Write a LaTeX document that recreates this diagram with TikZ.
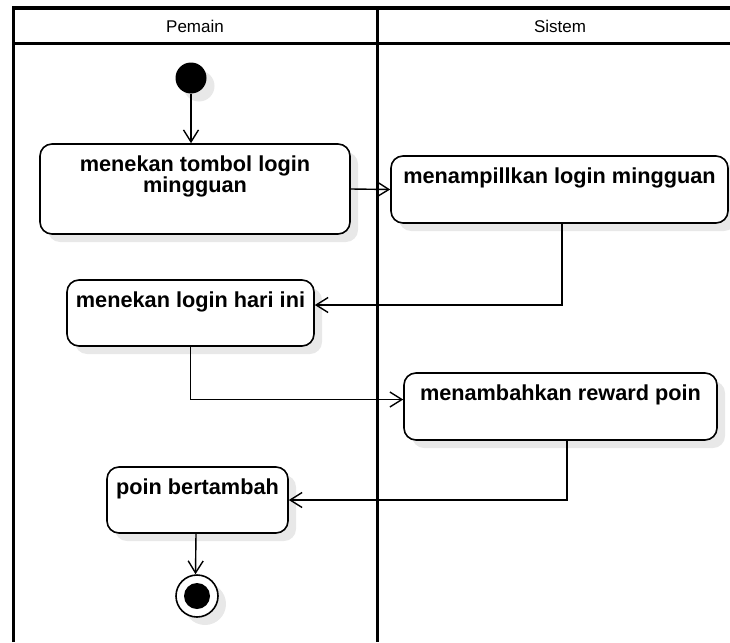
\documentclass[tikz,border=0pt]{standalone}
\usepackage{fontspec}
\setmainfont{Liberation Sans}
\usetikzlibrary{arrows.meta,shadows}

\begin{document}
\begin{tikzpicture}[x=1pt, y=-1pt, >={Straight Barb[length=12pt,width=15pt,line width=1.4pt]},
  shade/.style={drop shadow={shadow xshift=8pt, shadow yshift=-8pt, fill=black!9, opacity=1}},
  act/.style={draw, line width=1.6pt, rounded corners=12pt, fill=white, shade, inner sep=0pt},
  acttext/.style={anchor=north, inner sep=0pt, yshift=-12pt, align=center, font=\fontsize{21.7}{20}\selectfont\bfseries},
  flow/.style={->, line width=1.4pt},
  lane/.style={line width=3.5pt}]
  \useasboundingbox (0,0) rectangle (730,642);

  % Swimlanes
  \draw[lane] (13.5,642) -- (13.5,8) -- (730,8);
  \draw[lane] (13.5,43.5) -- (730,43.5);
  \draw[lane] (377.5,8) -- (377.5,642);
  \node[font=\fontsize{17}{17}\selectfont] (pemain) at (195,26) {Pemain};
  \node[font=\fontsize{17}{17}\selectfont] (sistem) at (560,26) {Sistem};

  % Start and end
  \node[circle, fill=black, minimum size=31pt, inner sep=0pt, shade] (start) at (191,78) {};
  \node[circle, draw, line width=1.6pt, fill=white, minimum size=42pt, inner sep=0pt, shade] (end) at (197,596) {};
  \fill (end) circle (13);

  % Activities
  \node[act, minimum width=310pt, minimum height=90pt,
    label={[acttext]north:menekan tombol login\\mingguan}] (tombol) at (195,189) {};
  \node[act, minimum width=337pt, minimum height=67pt,
    label={[acttext]north:menampillkan login mingguan}] (tampil) at (559.5,189.5) {};
  \node[act, minimum width=247pt, minimum height=66pt,
    label={[acttext]north:menekan login hari ini}] (hariini) at (190.5,313) {};
  \node[act, minimum width=313pt, minimum height=67pt,
    label={[acttext]north:menambahkan reward poin}] (reward) at (560.5,406.5) {};
  \node[act, minimum width=181pt, minimum height=66pt,
    label={[acttext]north:poin bertambah}] (poin) at (197.5,500) {};

  \coordinate (inHari) at ([yshift=8pt]hariini.east);
  \coordinate (inReward) at ([yshift=7pt]reward.west);

  % Flows
  \draw[flow] (start) -- (tombol.north -| start);
  \draw[flow] (tombol.east) -- (tampil.west);
  \draw[flow] ([xshift=2.5pt]tampil.south) |- (inHari);
  \draw[flow] (hariini.south) |- (inReward);
  \draw[flow] ([xshift=6.5pt]reward.south) |- (poin.east);
  \draw[flow] ([xshift=-1.5pt]poin.south) -- ([xshift=-1.5pt]end.north);
\end{tikzpicture}
\end{document}
